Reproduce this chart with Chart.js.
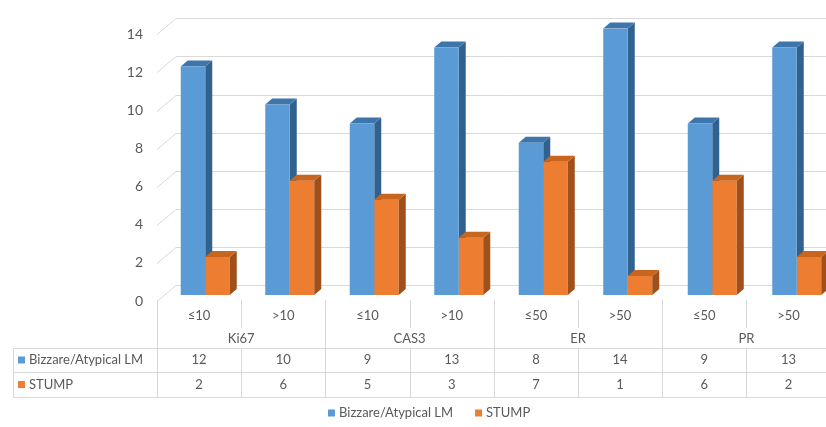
<!DOCTYPE html>
<html>
<head>
<meta charset="utf-8">
<script src="https://cdn.jsdelivr.net/npm/chart.js@4/dist/chart.umd.min.js"></script>
<style>
html,body{margin:0;padding:0;background:#fff;overflow:hidden;width:826px;height:427px;}
#wrap{position:relative;width:845px;height:427px;}
</style>
</head>
<body>
<div id="wrap"><canvas id="c" width="845" height="427"></canvas></div>
<script>
const categories = ['≤10', '>10', '≤10', '>10', '≤50', '>50', '≤50', '>50'];
const groups = ['Ki67', 'CAS3', 'ER', 'PR'];
const seriesNames = ['Bizzare/Atypical LM', 'STUMP'];
const bizarreAtypical = [12, 10, 9, 13, 8, 14, 9, 13];
const stump = [2, 6, 5, 3, 7, 1, 6, 2];
const yTicks = [0, 2, 4, 6, 8, 10, 12, 14];

const FRONT = ['#5B9BD5', '#ED7D31'];
const SIDE = ['#31628F', '#A0501B'];
const TOP = ['#3E75AA', '#C8651F'];
const TEXT = '#595959';
const LINE = '#D9D9D9';
const FONT = 'Lato';
const DX = 7, DY = 6;

function drawFaces(chart, di) {
  const ctx = chart.ctx;
  const meta = chart.getDatasetMeta(di);
  meta.data.forEach(bar => {
    const p = bar.getProps(['x', 'y', 'base', 'width'], true);
    const l = p.x - p.width / 2, r = p.x + p.width / 2, t = p.y, b = p.base;
    ctx.save();
    ctx.fillStyle = SIDE[di];
    ctx.beginPath();
    ctx.moveTo(r, t); ctx.lineTo(r + DX, t - DY); ctx.lineTo(r + DX, b - DY); ctx.lineTo(r, b);
    ctx.closePath(); ctx.fill();
    ctx.fillStyle = TOP[di];
    ctx.beginPath();
    ctx.moveTo(l, t); ctx.lineTo(l + DX, t - DY); ctx.lineTo(r + DX, t - DY); ctx.lineTo(r, t);
    ctx.closePath(); ctx.fill();
    ctx.restore();
  });
}

const threeD = {
  id: 'threeD',
  beforeDatasetsDraw(chart) {
    const ctx = chart.ctx, y = chart.scales.y, ca = chart.chartArea;
    const x0 = ca.left - 6;
    ctx.save();
    ctx.strokeStyle = LINE; ctx.lineWidth = 1;
    yTicks.forEach(v => {
      const py = Math.round(y.getPixelForValue(v)) + 0.5;
      ctx.beginPath();
      ctx.moveTo(x0, py + 6);
      ctx.lineTo(x0 + 19, py - 10);
      ctx.lineTo(chart.width, py - 10);
      ctx.stroke();
    });
    ctx.restore();
  },
  beforeDatasetDraw(chart, args) {
    if (args.index === 1) drawFaces(chart, 0);
  },
  afterDatasetsDraw(chart) {
    drawFaces(chart, 1);
  },
  afterDraw(chart) {
    const ctx = chart.ctx, ca = chart.chartArea;
    const colL = ca.left - 6;
    const colW = 84.2;
    const n = categories.length;
    const yTop = 300, ySub = 328, yR1 = 348, yR2 = 372, yR3 = 397;
    ctx.save();
    ctx.strokeStyle = LINE; ctx.lineWidth = 1;
    // vertical lines
    for (let i = 0; i <= n; i++) {
      const x = Math.round(colL + i * colW) + 0.5;
      ctx.beginPath();
      if (i % 2 === 0) {
        ctx.moveTo(x, yTop); ctx.lineTo(x, yR3);
      } else {
        ctx.moveTo(x, yTop); ctx.lineTo(x, ySub);
        ctx.moveTo(x, yR1); ctx.lineTo(x, yR3);
      }
      ctx.stroke();
    }
    // left border of data rows
    ctx.beginPath(); ctx.moveTo(13.5, yR1); ctx.lineTo(13.5, yR3); ctx.stroke();
    [yR1, yR2, yR3].forEach(yy => {
      ctx.beginPath(); ctx.moveTo(13, yy + 0.5); ctx.lineTo(chart.width, yy + 0.5); ctx.stroke();
    });
    // text
    ctx.fillStyle = TEXT;
    ctx.font = '13px ' + FONT;
    ctx.textAlign = 'center'; ctx.textBaseline = 'middle';
    categories.forEach((c, i) => {
      const cx = colL + (i + 0.5) * colW;
      ctx.fillText(c, cx, 316);
      ctx.fillText(String(bizarreAtypical[i]), cx, 360);
      ctx.fillText(String(stump[i]), cx, 384.5);
    });
    groups.forEach((g, i) => {
      const cx = colL + (2 * i + 1) * colW;
      ctx.fillText(g, cx, 339);
    });
    // row headers
    ctx.textAlign = 'left';
    const rowY = [360, 384.5];
    seriesNames.forEach((s, i) => {
      ctx.fillStyle = FRONT[i];
      ctx.fillRect(18, rowY[i] - 3.5, 7, 7);
      ctx.fillStyle = TEXT;
      ctx.fillText(s, 29, rowY[i]);
    });
    // legend
    let lx = 328;
    const ly = 413;
    seriesNames.forEach((s, i) => {
      ctx.fillStyle = FRONT[i];
      ctx.fillRect(lx, ly - 3.5, 7, 7);
      ctx.fillStyle = TEXT;
      ctx.fillText(s, lx + 11, ly);
      lx += 11 + ctx.measureText(s).width + 22;
    });
    ctx.restore();
  }
};

new Chart(document.getElementById('c'), {
  type: 'bar',
  data: {
    labels: categories,
    datasets: [
      { label: seriesNames[0], data: bizarreAtypical, backgroundColor: FRONT[0], borderWidth: 0 },
      { label: seriesNames[1], data: stump, backgroundColor: FRONT[1], borderWidth: 0 }
    ]
  },
  options: {
    responsive: false,
    animation: false,
    layout: { padding: { top: 20, bottom: 132, right: 6, left: 0 } },
    plugins: { legend: { display: false }, tooltip: { enabled: false } },
    datasets: { bar: { categoryPercentage: 0.58, barPercentage: 1.0 } },
    scales: {
      x: { display: false },
      y: {
        min: 0, max: 14,
        afterFit: s => { s.width = 163; },
        afterBuildTicks: s => { s.ticks = yTicks.map(v => ({ value: v })); },
        grid: { display: false, drawTicks: false },
        border: { display: false },
        ticks: { color: TEXT, font: { family: FONT, size: 14 }, padding: 20, labelOffset: 6 }
      }
    }
  },
  plugins: [threeD]
});
</script>
</body>
</html>
